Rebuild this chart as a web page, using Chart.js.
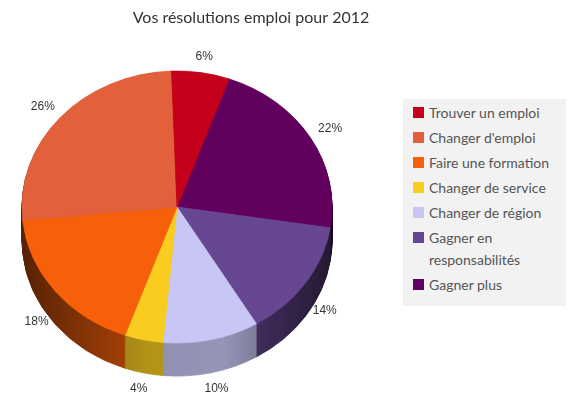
<!DOCTYPE html>
<html lang="fr">
<head>
  <meta charset="UTF-8">
  <title>Vos résolutions emploi pour 2012</title>
  <script src="https://cdn.jsdelivr.net/npm/chart.js"></script>
  <style>
    html, body { margin: 0; padding: 0; background: #fff; }
    #wrap { position: relative; width: 576px; height: 408px; }
    #legend {
      position: absolute; left: 403px; top: 99px; width: 163px; height: 207px;
      background: #f2f2f2; box-sizing: border-box; padding: 3px 0 0 10px;
      font-family: Lato, "Open Sans", sans-serif; font-size: 14px; color: #555;
    }
    #legend .item { display: flex; align-items: flex-start; margin-bottom: 3px; }
    #legend .sw { width: 11px; height: 11px; margin: 5px 5px 0 0; flex: none; }
    #legend .txt { width: 132px; line-height: 22px; }
  </style>
</head>
<body>
  <div id="wrap">
    <canvas id="pie" width="576" height="408"></canvas>
    <div id="legend"></div>
  </div>
  <script>
    // données
    const categories = ['Trouver un emploi', "Changer d'emploi", 'Faire une formation', 'Changer de service', 'Changer de région', 'Gagner en responsabilités', 'Gagner plus'];
    const valeurs = [6, 26, 18, 4, 10, 14, 22];
    const couleurs = ['#c4001b', '#e2603c', '#f7600a', '#f9cc20', '#c8c6f5', '#674791', '#62005e'];

    // géométrie de la "3D"
    const CX = 177, CY = 207, RX = 155, RY = 136, DEPTH = 45;

    function shade(hex, f) {
      const n = parseInt(hex.slice(1), 16);
      const r = Math.round(((n >> 16) & 255) * f), g = Math.round(((n >> 8) & 255) * f), b = Math.round((n & 255) * f);
      return 'rgb(' + r + ',' + g + ',' + b + ')';
    }

    // le camembert tourne dans l'autre sens : on inverse l'ordre
    const labelsInv = categories.slice().reverse();
    const valeursInv = valeurs.slice().reverse();
    const couleursInv = couleurs.slice().reverse();
    const total = valeurs.reduce((a, b) => a + b, 0);

    function setTransform(ctx, arc) {
      const R = arc.outerRadius;
      ctx.translate(CX, CY);
      ctx.scale(RX / R, RY / R);
      ctx.translate(-arc.x, -arc.y);
    }

    const pie3d = {
      id: 'pie3d',
      beforeDatasetsDraw(chart) {
        const ctx = chart.ctx;
        const arcs = chart.getDatasetMeta(0).data;
        const a0 = arcs[0];
        // flancs
        ctx.save();
        setTransform(ctx, a0);
        const sides = arcs.map((arc, i) => {
          const g = ctx.createLinearGradient(a0.x - a0.outerRadius, 0, a0.x + a0.outerRadius, 0);
          const c = couleursInv[i];
          g.addColorStop(0, shade(c, 0.35));
          g.addColorStop(0.4, shade(c, 0.72));
          g.addColorStop(0.65, shade(c, 0.75));
          g.addColorStop(1, shade(c, 0.35));
          return g;
        });
        for (let d = DEPTH; d >= 1; d--) {
          ctx.save();
          ctx.translate(0, d);
          arcs.forEach((arc, i) => {
            const orig = arc.options;
            arc.options = Object.assign({}, orig, { backgroundColor: sides[i], borderColor: sides[i] });
            arc.draw(ctx);
            arc.options = orig;
          });
          ctx.restore();
        }
        ctx.restore();
        // face du dessus
        ctx.save();
        setTransform(ctx, a0);
      },
      afterDatasetsDraw(chart) {
        const ctx = chart.ctx;
        ctx.restore();
        const arcs = chart.getDatasetMeta(0).data;
        ctx.save();
        ctx.font = '12px "Liberation Sans", Arial, sans-serif';
        ctx.fillStyle = '#333';
        ctx.textAlign = 'center';
        ctx.textBaseline = 'middle';
        arcs.forEach((arc, i) => {
          const mid = (arc.startAngle + arc.endAngle) / 2;
          const ux = Math.cos(mid), uy = Math.sin(mid);
          const x = CX + RX * ux * 1.15;
          const y = CY + RY * uy * 1.12 + (uy > 0 ? DEPTH * uy * 0.75 : 0);
          ctx.fillText(Math.round(valeursInv[i] / total * 100) + '%', x, y);
        });
        ctx.restore();
      }
    };

    new Chart(document.getElementById('pie'), {
      type: 'pie',
      data: {
        labels: labelsInv,
        datasets: [{
          data: valeursInv,
          backgroundColor: couleursInv,
          borderColor: couleursInv,
          borderWidth: 1,
          clip: false
        }]
      },
      options: {
        responsive: false,
        animation: false,
        rotation: 360 * valeurs[0] / total - 2,
        layout: { padding: { right: 74 } },
        plugins: {
          legend: { display: false },
          tooltip: { enabled: false },
          title: {
            display: true,
            text: 'Vos résolutions emploi pour 2012',
            color: '#333',
            font: { family: 'Lato, "Open Sans", sans-serif', size: 16, weight: 'normal' },
            padding: { top: 8, bottom: 10 }
          }
        }
      },
      plugins: [pie3d]
    });

    // légende
    const leg = document.getElementById('legend');
    categories.forEach((c, i) => {
      const it = document.createElement('div');
      it.className = 'item';
      it.innerHTML = '<span class="sw" style="background:' + couleurs[i] + '"></span><span class="txt">' + c + '</span>';
      leg.appendChild(it);
    });
  </script>
</body>
</html>
